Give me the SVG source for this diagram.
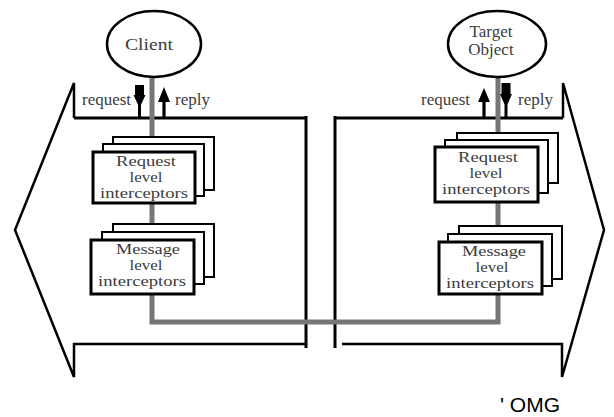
<svg xmlns="http://www.w3.org/2000/svg" width="614" height="417" viewBox="0 0 614 417">
  <style>
    .frame { fill: none; stroke: #000; stroke-width: 2.5; stroke-linejoin: miter; }
    .wall { fill: none; stroke: #000; stroke-width: 3; }
    .obj { fill: #fff; stroke: #000; stroke-width: 2.5; }
    .card { fill: #fff; stroke: #000; stroke-width: 2; }
    .card-front { fill: #fff; stroke: #000; stroke-width: 3; }
    .lbl { font-family: "Liberation Serif", "Times New Roman", serif; font-size: 17px; fill: #3c3c3c; }
    .box-lbl { font-family: "Liberation Serif", "Times New Roman", serif; font-size: 15px; fill: #3c3c3c; text-anchor: middle; }
    .mid { text-anchor: middle; }
    .arrow { fill: #000; stroke: none; }
    .flow { fill: none; stroke: #767676; stroke-width: 5; stroke-linejoin: miter; }
  </style>
  <rect width="614" height="417" fill="#ffffff"/>

  <!-- ORB halves (client side and server side) -->
  <g id="client-orb">
    <polyline class="frame" points="74,118 74,83 15,230 74,377 74,344 306,344"/>
    <line class="wall" x1="74" y1="118" x2="306" y2="118"/>
    <line class="wall" x1="306" y1="116" x2="306" y2="348"/>
  </g>
  <g id="server-orb">
    <polyline class="frame" points="563,118 563,83 604,230 562,377 562,344 342,344"/>
    <line class="wall" x1="563" y1="118" x2="335" y2="118"/>
    <line class="wall" x1="335" y1="116" x2="335" y2="348"/>
  </g>

  <!-- message path between the two objects -->
  <g id="connectors">
    <path class="flow" d="M152,76 V322 H498 V76"/>
    <!-- client side: request down, reply up -->
    <path class="arrow" d="M135,85 H144 V95 L145.5,95 L139.5,108 L133.5,95 L135,95 Z M138,104 H141 V118 H138 Z"/>
    <path class="arrow" d="M164,87 L170,102 H165.6 V118 H162.4 V102 H158 Z"/>
    <!-- server side: request up, reply down -->
    <path class="arrow" d="M484,88 L490,102 H485.6 V118 H482.4 V102 H478 Z"/>
    <path class="arrow" d="M501.5,83 H510.5 V94 L512,94 L506,108 L500,94 L501.5,94 Z M504.5,104 H507.5 V118 H504.5 Z"/>
  </g>

  <g id="label-client-request"><text class="lbl" x="82" y="105">request</text></g>
  <g id="label-client-reply"><text class="lbl" x="175" y="105">reply</text></g>
  <g id="label-server-request"><text class="lbl" x="421" y="105">request</text></g>
  <g id="label-server-reply"><text class="lbl" x="518" y="105">reply</text></g>

  <g id="client">
    <ellipse class="obj" cx="154" cy="44" rx="47" ry="33"/>
    <text class="lbl mid" x="149" y="50" textLength="48" lengthAdjust="spacingAndGlyphs">Client</text>
  </g>

  <g id="target-object">
    <ellipse class="obj" cx="497" cy="44" rx="49" ry="33"/>
    <text class="lbl mid" x="491" y="37">Target</text>
    <text class="lbl mid" x="491" y="55">Object</text>
  </g>

  <g id="client-request-interceptors">
    <rect class="card" x="113" y="137" width="101" height="53"/>
    <rect class="card" x="103" y="144" width="101" height="52"/>
    <rect class="card-front" x="93" y="152" width="102" height="51"/>
    <text class="box-lbl" x="146" y="166" textLength="60" lengthAdjust="spacingAndGlyphs">Request</text>
    <text class="box-lbl" x="146" y="182" textLength="33" lengthAdjust="spacingAndGlyphs">level</text>
    <text class="box-lbl" x="144" y="198" textLength="88" lengthAdjust="spacingAndGlyphs">interceptors</text>
  </g>

  <g id="client-message-interceptors">
    <rect class="card" x="113" y="224" width="101" height="53"/>
    <rect class="card" x="102" y="232" width="102" height="52"/>
    <rect class="card-front" x="91" y="240" width="103" height="54"/>
    <text class="box-lbl" x="148" y="254" textLength="64" lengthAdjust="spacingAndGlyphs">Message</text>
    <text class="box-lbl" x="146" y="270" textLength="33" lengthAdjust="spacingAndGlyphs">level</text>
    <text class="box-lbl" x="142" y="286" textLength="88" lengthAdjust="spacingAndGlyphs">interceptors</text>
  </g>

  <g id="server-request-interceptors">
    <rect class="card" x="457" y="133" width="101" height="50"/>
    <rect class="card" x="445" y="140" width="103" height="53"/>
    <rect class="card-front" x="435" y="147" width="103" height="55"/>
    <text class="box-lbl" x="488" y="162" textLength="60" lengthAdjust="spacingAndGlyphs">Request</text>
    <text class="box-lbl" x="486" y="178" textLength="33" lengthAdjust="spacingAndGlyphs">level</text>
    <text class="box-lbl" x="486" y="194" textLength="88" lengthAdjust="spacingAndGlyphs">interceptors</text>
  </g>

  <g id="server-message-interceptors">
    <rect class="card" x="459" y="226" width="103" height="53"/>
    <rect class="card" x="448" y="234" width="104" height="52"/>
    <rect class="card-front" x="439" y="242" width="103" height="52"/>
    <text class="box-lbl" x="494" y="256" textLength="64" lengthAdjust="spacingAndGlyphs">Message</text>
    <text class="box-lbl" x="492" y="272" textLength="33" lengthAdjust="spacingAndGlyphs">level</text>
    <text class="box-lbl" x="490" y="288" textLength="88" lengthAdjust="spacingAndGlyphs">interceptors</text>
  </g>

  <g id="copyright">
    <text x="500" y="412" font-family="'Liberation Sans', Arial, sans-serif" font-size="21" fill="#000">' OMG</text>
  </g>
</svg>
